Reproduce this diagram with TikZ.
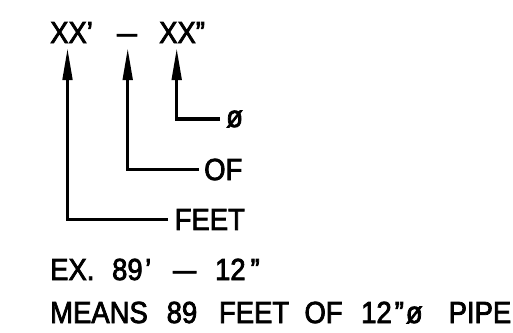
\documentclass[tikz,border=0pt]{standalone}
\usepackage{fontspec}
\setmainfont[FakeStretch=0.9,FakeBold=2.5]{Liberation Sans}
\usetikzlibrary{arrows.meta}
\newcommand{\wideDash}[1]{\scalebox{#1}[1]{–}}
\begin{document}
\begin{tikzpicture}[x=1pt,y=-1pt,
  txt/.style={inner sep=0pt,font=\fontsize{30.5}{36}\selectfont},
  lbl/.style={txt,inner xsep=6pt},
  lead/.style={line width=3.2pt,-{Triangle[length=32pt,width=9.5pt]}}]
\useasboundingbox (0,0) rectangle (513,332);
\node[txt,anchor=base west] (xa) at (50,43) {XX’};
\node[txt,anchor=base] (dash) at (127,43) {\wideDash{1.3}};
\node[txt,anchor=base west] (xb) at (159,43) {XX”};
\coordinate (t1) at (67.5,48);
\coordinate (t2) at (127.7,48);
\coordinate (t3) at (176.7,48);
\node[lbl,anchor=west] (dia) at (220,119) {ø};
\node[lbl,anchor=west,inner xsep=5pt] (of) at (199,169.5) {OF};
\node[lbl,anchor=west,inner xsep=6.5pt] (feet) at (168,219.5) {FEET};
\draw[lead] (dia.west) -| (t3);
\draw[lead] (of.west) -| (t2);
\draw[lead] (feet.west) -| (t1);
\node[txt,anchor=base west] (ex) at (50,280)
  {EX.\hspace{17.7pt}89\hspace{2.5pt}’\hspace{21.9pt}\wideDash{1.5}\hspace{19pt}12\hspace{5pt}”};
\node[txt,anchor=base west] (means) at (50,323)
  {MEANS\hspace{18.9pt}89\hspace{21.8pt}FEET\hspace{15.3pt}OF\hspace{18.6pt}12\hspace{3pt}”\hspace{2pt}ø\hspace{26pt}PIPE};
\end{tikzpicture}
\end{document}
